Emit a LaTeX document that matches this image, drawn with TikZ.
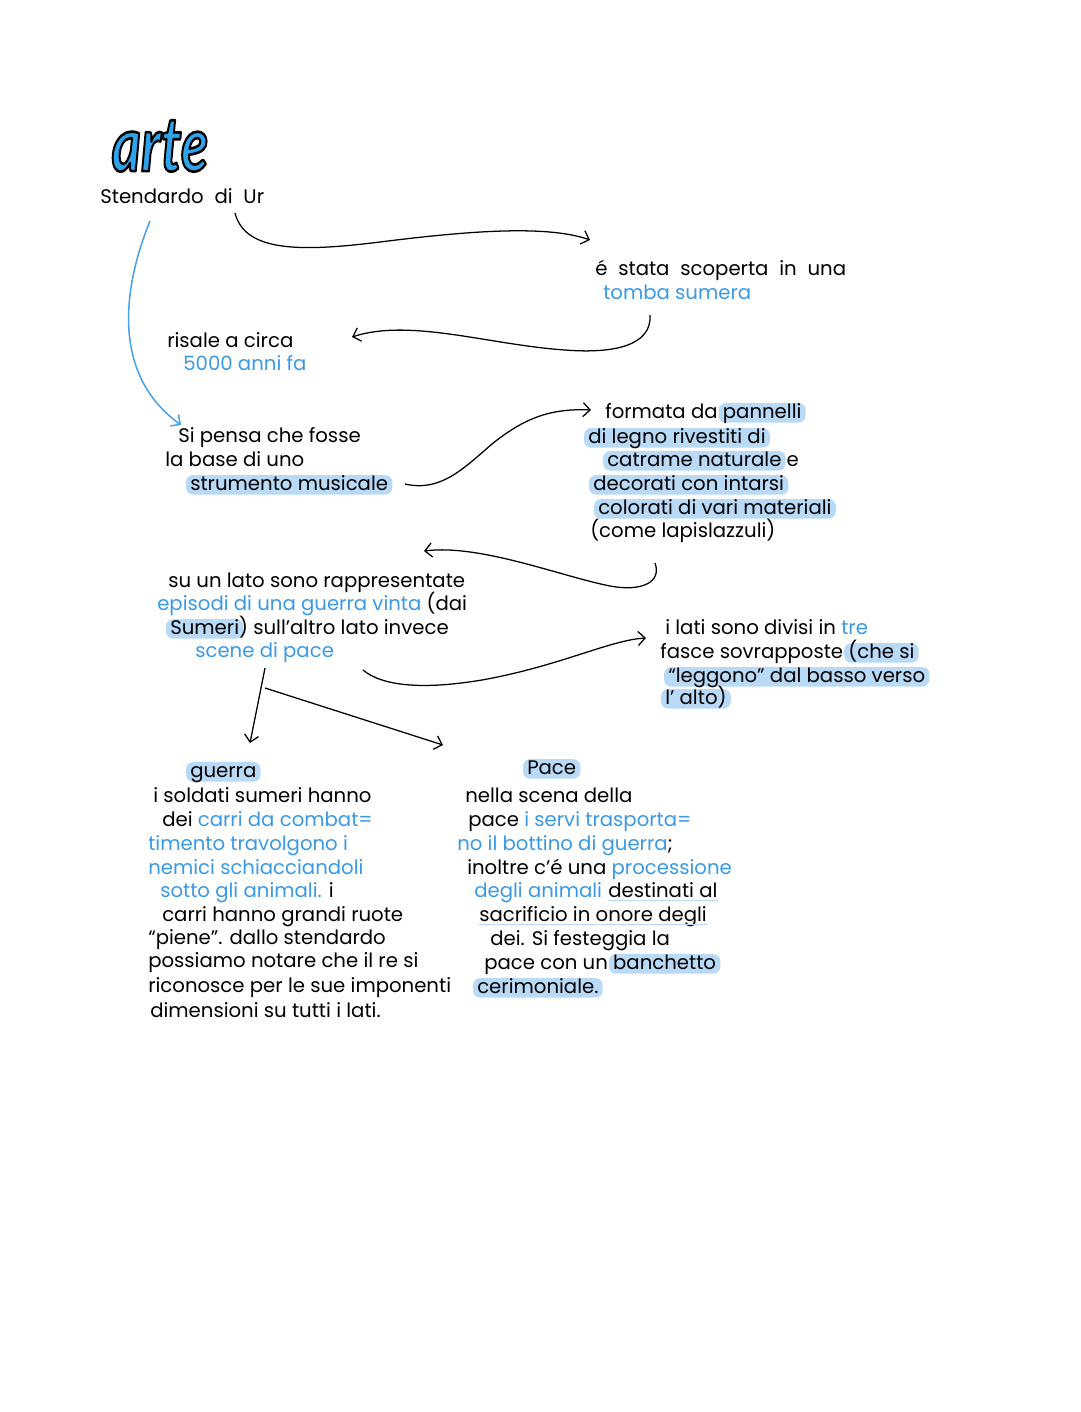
\documentclass[tikz,border=0pt]{standalone}
\usepackage{graphicx}
\usepackage{fontspec}
\setmainfont{Poppins}
\newfontfamily\titlefont{Lato}
\usepackage{xcolor}
\usetikzlibrary{arrows.meta}

\definecolor{noteblue}{HTML}{3A9AE6}
\definecolor{notehl}{HTML}{B9DAF7}
\definecolor{notearrow}{HTML}{4AA4E4}
\definecolor{titleblue}{HTML}{2FA3EA}

\tikzset{
  hlbox/.style={fill=notehl, rounded corners=5pt, inner xsep=3pt,
                inner ysep=1pt, text height=1.25ex, text depth=0.3ex},
  ulline/.style={notehl, line width=1pt},
  txt/.style={anchor=base west, inner sep=0pt,
              font=\fontsize{14}{16}\selectfont},
  wide/.style={execute at begin node={\spaceskip=0.55em\relax}},
  pen/.style={line width=0.9pt, -{Straight Barb[length=5pt,width=10pt]}},
}

\newcommand\hlt[1]{\hspace{-3pt}\tikz[baseline=(hl.base)]\node[hlbox] (hl) {#1};\hspace{-3pt}}
\newcommand\ult[1]{\tikz[baseline=(ul.base)]{\node[inner sep=0pt] (ul) {#1};
  \draw[ulline] ([yshift=-2.5pt]ul.base west) -- ([yshift=-2.5pt]ul.base east);}}
\newcommand\blu[1]{\textcolor{noteblue}{#1}}
% outlined title letters: fill in text colour, black stroke
\newcommand\outlined[1]{\special{pdf:literal direct 0 0 0 RG 1.4 w 1 j 2 Tr}#1\special{pdf:literal direct 0 Tr}}

\begin{document}
\begin{tikzpicture}[x=0.025cm, y=-0.025cm]

\useasboundingbox[fill=white] (0,0) rectangle (1080,1412);

%% ── TITLE ───────────────────────────────────────────────────────
\node[font=\titlefont\bfseries\itshape\fontsize{40}{40}\selectfont, text=titleblue]
  (arte) at (160, 146) {\scalebox{1}[1.35]{\outlined{arte}}};

\node[txt, wide] (stendardo) at (100, 203) {Stendardo di Ur};

%% ── UPPER BLOCKS ────────────────────────────────────────────────
\node[txt, wide] (scoperta-1) at (595, 275) {é stata scoperta in una};
\node[txt] (scoperta-2) at (603, 299) {\blu{tomba sumera}};

\node[txt] (risale-1) at (167, 347) {risale a circa};
\node[txt] (risale-2) at (183, 370) {\blu{5000 anni fa}};

\foreach \x/\y/\t [count=\i] in {178/442/{Si pensa che fosse},
    165/466/{la base di uno}, 190/490/{\hlt{strumento musicale}}}
  \node[txt] (pensa-\i) at (\x, \y) {\t};

\foreach \x/\y/\t [count=\i] in {605/418/{formata da \hlt{pannelli}},
    588/443/{\hlt{di legno rivestiti di}},
    607/466/{\hlt{catrame naturale} e},
    593/490/{\hlt{decorati con intarsi}},
    598/514/{\hlt{colorati di vari materiali}},
    590/537/{(come lapislazzuli)}}
  \node[txt] (formata-\i) at (\x, \y) {\t};

%% ── LATI ────────────────────────────────────────────────────────
\foreach \x/\y/\t [count=\i] in {168/587/{su un lato sono rappresentate},
    157/610/{\blu{episodi di una guerra vinta} (dai},
    170/634/{\hlt{Sumeri}) sull’altro lato invece},
    195/657/{\blu{scene di pace}}}
  \node[txt] (lato-\i) at (\x, \y) {\t};

\foreach \x/\y/\t [count=\i] in {665/634/{i lati sono divisi in \blu{tre}},
    660/658/{fasce sovrapposte \hlt{(che si}},
    668/682/{\hlt{“leggono” dal basso verso}},
    665/704/{\hlt{l’ alto)}}}
  \node[txt] (fasce-\i) at (\x, \y) {\t};

%% ── GUERRA ──────────────────────────────────────────────────────
\node[txt] (guerra) at (190, 777) {\hlt{guerra}};
\foreach \x/\y/\t [count=\i] in {153/802/{i soldati sumeri hanno},
    162/826/{dei \blu{carri da combat=}},
    148/850/{\blu{timento travolgono i}},
    148/874/{\blu{nemici schiacciandoli}},
    160/897/{\blu{sotto gli animali.} i},
    162/921/{carri hanno grandi ruote},
    148/944/{“piene”. dallo stendardo},
    148/967/{possiamo notare che il re si},
    148/992/{riconosce per le sue imponenti},
    150/1017/{dimensioni su tutti i lati.}}
  \node[txt] (guerra-\i) at (\x, \y) {\t};

%% ── PACE ────────────────────────────────────────────────────────
\node[txt] (pace) at (527, 774) {\hlt{Pace}};
\foreach \x/\y/\t [count=\i] in {465/802/{nella scena della},
    468/826/{pace \blu{i servi trasporta=}},
    457/850/{\blu{no il bottino di guerra};},
    467/874/{inoltre c’é una \blu{processione}},
    474/897/{\blu{degli animali} \ult{destinati al}},
    478/921/{\ult{sacrificio in onore degli}},
    490/945/{dei. Si festeggia la},
    484/969/{pace con un \hlt{banchetto}},
    477/993/{\hlt{cerimoniale.}}}
  \node[txt] (pace-\i) at (\x, \y) {\t};

%% ── CONNECTORS ──────────────────────────────────────────────────
\coordinate (c-sco-a) at (235, 213);  \coordinate (c-sco-b) at (590, 240);
\coordinate (c-ris-a) at (650, 315);  \coordinate (c-ris-b) at (352, 337);
\coordinate (c-pen-a) at (150, 221);  \coordinate (c-pen-b) at (181, 425);
\coordinate (c-for-a) at (405, 484);  \coordinate (c-for-b) at (591, 410);
\coordinate (c-lat-a) at (655, 563);  \coordinate (c-lat-b) at (424, 551);
\coordinate (c-fas-a) at (363, 670);  \coordinate (c-fas-b) at (646, 638);
\coordinate (c-gue-a) at (265, 668);  \coordinate (c-gue-b) at (250, 743);
\coordinate (c-pac-a) at (265, 688);  \coordinate (c-pac-b) at (443, 745);

\draw[pen] (c-sco-a) .. controls (245, 252) and (300, 252) .. (380, 242)
  .. controls (460, 232) and (545, 224) .. (c-sco-b);
\draw[pen] (c-ris-a) .. controls (652, 345) and (615, 354) .. (565, 350)
  .. controls (490, 345) and (410, 318) .. (c-ris-b);
\draw[pen, notearrow, line width=1.1pt] (c-pen-a) .. controls (122, 290) and (112, 375) .. (c-pen-b);
\draw[pen] (c-for-a) .. controls (440, 492) and (462, 470) .. (492, 444)
  .. controls (522, 420) and (548, 408) .. (c-for-b);
\draw[pen] (c-lat-a) .. controls (662, 582) and (642, 592) .. (610, 586)
  .. controls (560, 576) and (480, 544) .. (c-lat-b);
\draw[pen] (c-fas-a) .. controls (382, 686) and (422, 690) .. (482, 680)
  .. controls (560, 666) and (610, 640) .. (c-fas-b);
\draw[pen] (c-gue-a) -- (c-gue-b);
\draw[pen] (c-pac-a) -- (c-pac-b);

\end{tikzpicture}
\end{document}
